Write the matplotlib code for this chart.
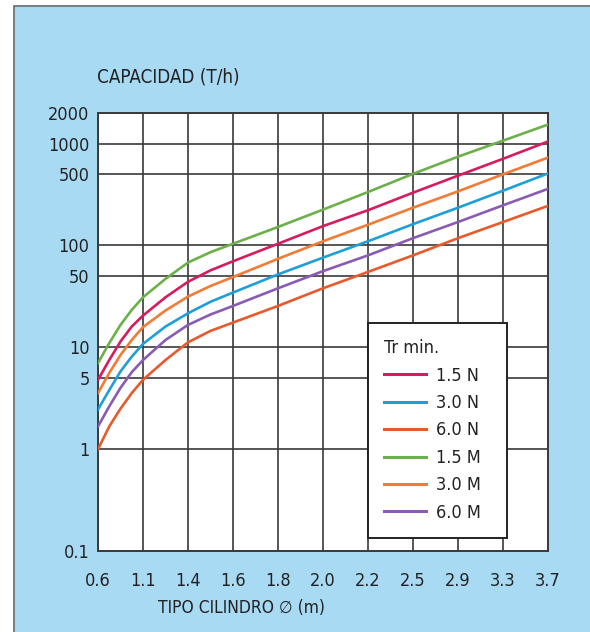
import matplotlib
import matplotlib.pyplot as plt
from matplotlib.patches import Rectangle

matplotlib.use("Agg")

plt.rcParams["font.family"] = ["DejaVu Sans"]
plt.rcParams["font.stretch"] = "condensed"

# x categories (cylinder type, m) -- drawn equally spaced
x_labels = ["0.6", "1.1", "1.4", "1.6", "1.8", "2.0", "2.2", "2.5", "2.9", "3.3", "3.7"]
# positions where the curves were read (index along the category axis)
x_pos = [0, 0.25, 0.5, 0.75, 1, 1.5, 2, 2.5, 3, 4, 5, 6, 7, 8, 9, 10]

cap_15n = [4.8, 7.5, 11.4, 16, 20.5, 31, 44, 57, 70, 104, 155, 222, 330, 485, 710, 1050]
cap_30n = [2.45, 3.8, 5.8, 8.1, 10.8, 16, 21.6, 28, 34.5, 52, 76, 110, 162, 235, 345, 510]
cap_60n = [1.0, 1.67, 2.5, 3.55, 4.8, 7.5, 11.2, 14.5, 17.5, 25.5, 38, 55, 80, 118, 170, 245]
cap_15m = [7.0, 11, 16.6, 23.3, 31, 47, 68, 86, 104, 152, 225, 335, 505, 745, 1070, 1540]
cap_30m = [3.55, 5.6, 8.4, 11.8, 15.8, 23, 31.5, 40, 49, 74, 110, 160, 235, 340, 500, 730]
cap_60m = [1.67, 2.63, 4.0, 5.7, 7.5, 11.8, 16.6, 21, 25.5, 38, 56, 80, 118, 170, 248, 360]

series_labels = ["1.5 N", "3.0 N", "6.0 N", "1.5 M", "3.0 M", "6.0 M"]
series_colors = ["#d81b5e", "#1e9fd8", "#e85a2c", "#6cb04a", "#f27b35", "#8a5bb5"]

y_ticks = [0.1, 1, 5, 10, 50, 100, 500, 1000, 2000]
y_tick_labels = ["0.1", "1", "5", "10", "50", "100", "500", "1000", "2000"]

TXT = "#222222"

fig = plt.figure(figsize=(5.9, 6.32), dpi=100, facecolor="white")

# light blue panel behind the chart
panel = Rectangle((14 / 590, -0.02), 1.0, 1 - 6 / 632 + 0.02,
                  transform=fig.transFigure, facecolor="#a8daf4",
                  edgecolor="#6a6a6a", linewidth=1.2, zorder=-5)
fig.patches.append(panel)

ax = fig.add_axes([98 / 590, 1 - 551 / 632, 450 / 590, 438 / 632])
ax.set_zorder(1)
ax.set_facecolor("white")

all_series = [cap_15n, cap_30n, cap_60n, cap_15m, cap_30m, cap_60m]
handles = []
for vals, lab, col in zip(all_series, series_labels, series_colors):
    h, = ax.plot(x_pos, vals, color=col, linewidth=1.9, label=lab, zorder=3,
                 solid_joinstyle="round")
    handles.append(h)

ax.set_yscale("log")
ax.set_ylim(0.1, 2000)
ax.set_xlim(0, len(x_labels) - 1)
ax.set_xticks(range(len(x_labels)))
ax.set_xticklabels(x_labels, fontsize=13, color=TXT)
ax.set_yticks(y_ticks)
ax.set_yticklabels(y_tick_labels, fontsize=13, color=TXT)
ax.yaxis.set_minor_locator(matplotlib.ticker.NullLocator())
ax.tick_params(axis="x", length=0, pad=15)
ax.tick_params(axis="y", length=0, pad=6)

ax.grid(True, which="major", color="#3a3a3a", linewidth=1.2, zorder=1)
ax.set_axisbelow(True)
for sp in ax.spines.values():
    sp.set_color("#3a3a3a")
    sp.set_linewidth(1.4)

fig.text(97 / 590, 1 - 77 / 632, "CAPACIDAD (T/h)", fontsize=13.5,
         color=TXT, ha="left", va="center")
fig.text(242 / 590, 1 - 608 / 632, "TIPO CILINDRO \u2205 (m)",
         fontsize=12.5, color=TXT, ha="center", va="center")

leg = ax.legend(handles=handles, title="Tr min.", loc="upper left",
                bbox_to_anchor=(0.6, 0.0, 139 / 450, 0.5205), mode="expand",
                borderaxespad=0,
                prop={"size": 13},
                title_fontproperties={"size": 13},
                alignment="left", frameon=True, fancybox=False,
                framealpha=1, handlelength=2.3, handletextpad=0.55,
                labelspacing=0.52, borderpad=0.9)
leg.get_frame().set_edgecolor("#222222")
leg.get_frame().set_linewidth(1.4)
for line in leg.get_lines():
    line.set_linewidth(2.2)
for t in leg.get_texts():
    t.set_color(TXT)
leg.get_title().set_color(TXT)
leg.set_zorder(5)

fig.savefig("out.png", dpi=100, facecolor=fig.get_facecolor())
